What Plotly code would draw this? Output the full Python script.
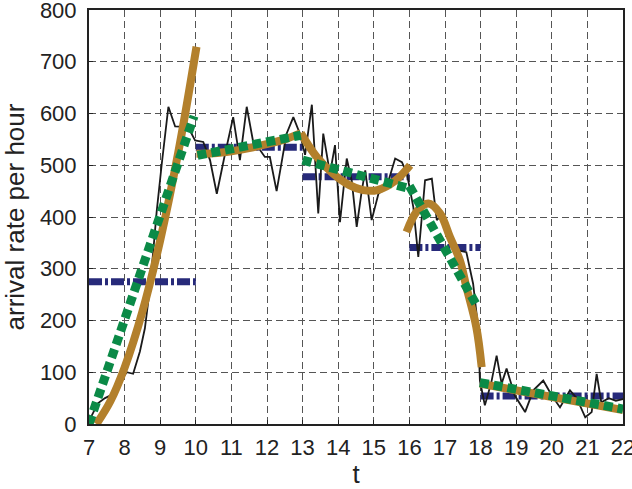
import plotly.graph_objects as go

# observed arrivals (black noisy line)
black_t = [7.03, 7.25, 7.45, 7.68, 7.85, 8.06, 8.24, 8.43, 8.57, 8.67, 8.80, 8.90, 9.04, 9.23, 9.42,
           9.60, 9.78, 9.98, 10.21, 10.40, 10.59, 10.80, 11.05, 11.24, 11.43, 11.62, 11.80, 11.94,
           12.08, 12.27, 12.41, 12.55, 12.74, 12.93, 13.07, 13.26, 13.44, 13.58, 13.77, 13.91,
           14.05, 14.24, 14.38, 14.52, 14.66, 14.76, 14.94, 15.13, 15.36, 15.60, 15.79, 15.93,
           16.11, 16.25, 16.44, 16.63, 16.77, 16.95, 17.14, 17.40, 17.60, 17.79, 17.93, 17.98,
           18.12, 18.30, 18.45, 18.59, 18.73, 18.96, 19.25, 19.48, 19.76, 20.00, 20.23, 20.51,
           20.70, 20.94, 21.12, 21.26, 21.39, 21.60, 21.80, 22.00]
black_v = [10, 40, 50, 58, 80, 100, 97, 140, 185, 240, 330, 410, 500, 613, 575,
           575, 574, 548, 545, 510, 445, 515, 593, 510, 613, 542, 530, 516,
           516, 450, 510, 561, 593, 560, 520, 617, 407, 561, 484, 539,
           390, 513, 470, 381, 450, 490, 394, 445, 458, 513, 506, 484,
           419, 323, 471, 474, 394, 407, 355, 335, 332, 271, 187, 84,
           36, 80, 132, 78, 107, 55, 23, 65, 84, 55, 32, 65,
           50, 13, 23, 97, 42, 50, 45, 48]

# piecewise smooth fit (brown)
brown_t = [7.21, 7.6, 8.0, 8.5, 9.0, 9.5, 10.02, None,
           10.02, 10.5, 11.0, 11.5, 12.0, 12.5, 12.95, None,
           12.95, 13.15, 13.4, 13.85, 14.3, 14.7, 15.1, 15.6, 16.02, None,
           15.92, 16.2, 16.53, 16.86, 17.14, 17.42, 17.6, 17.88, 18.03, None,
           17.98, 22.0]
brown_v = [0, 44, 109, 217, 355, 522, 729, None,
           522, 523, 527, 533, 541, 550, 562, None,
           562, 540, 516, 484, 462, 452, 452, 470, 500, None,
           371, 410, 426, 407, 361, 316, 265, 187, 110, None,
           78, 27]

# piecewise linear fit (green)
green_t = [7.0, 9.95, None, 10.05, 12.95, None, 13.0, 16.0, None, 16.0, 17.9, None, 17.98, 22.0]
green_v = [0, 595, None, 519, 558, None, 510, 455, None, 460, 228, None, 80, 29]

# piecewise constant fit (navy)
navy_t = [7.0, 10.0, None, 10.0, 13.0, None, 13.0, 16.0, None, 16.0, 18.0, None, 18.0, 22.0]
navy_v = [275, 275, None, 535, 535, None, 478, 478, None, 341, 341, None, 54, 54]

x_ticks = list(range(7, 23))
y_ticks = list(range(0, 801, 100))

fig = go.Figure()
fig.add_trace(go.Scatter(x=navy_t, y=navy_v, mode="lines", connectgaps=False,
                         line=dict(color="#272a7a", width=7, dash="13px,3px,3px,3px")))
fig.add_trace(go.Scatter(x=black_t, y=black_v, mode="lines",
                         line=dict(color="#1a1a1a", width=1.8)))
fig.add_trace(go.Scatter(x=brown_t, y=brown_v, mode="lines", connectgaps=False,
                         line=dict(color="#b3802c", width=8, shape="spline", smoothing=1.0)))
fig.add_trace(go.Scatter(x=green_t, y=green_v, mode="lines", connectgaps=False,
                         line=dict(color="#0b8a47", width=9, dash="9px,5px")))

font_family = "Liberation Sans, Arial, Helvetica, sans-serif"
fig.update_layout(
    width=632, height=489,
    margin=dict(l=89, r=9, t=10, b=65),
    paper_bgcolor="white", plot_bgcolor="white",
    showlegend=False,
    font=dict(family=font_family, size=22, color="#222"),
    xaxis=dict(range=[7, 22], tickvals=x_ticks, ticktext=[str(v) for v in x_ticks],
               showgrid=True, gridcolor="#555", griddash="7px,4px", gridwidth=1,
               showline=True, linecolor="#222", linewidth=2, mirror=True,
               ticks="inside", ticklen=4, tickcolor="#222",
               zeroline=False, automargin=False, ticklabeloverflow="allow",
               ticklabelstandoff=3,
               title=dict(text="t", standoff=8),
               tickfont=dict(size=22)),
    yaxis=dict(range=[0, 800], tickvals=y_ticks, ticktext=[str(v) for v in y_ticks],
               showgrid=True, gridcolor="#555", griddash="7px,4px", gridwidth=1,
               showline=True, linecolor="#222", linewidth=2, mirror=True,
               ticks="inside", ticklen=4, tickcolor="#222",
               zeroline=False, automargin=False, ticklabeloverflow="allow",
               ticklabelstandoff=6,
               title=dict(text="arrival rate per hour", standoff=11),
               tickfont=dict(size=22)),
)
fig.write_html("out.html", config={"displayModeBar": False},
               post_script="document.body.style.margin='0';document.body.style.overflow='hidden';")
